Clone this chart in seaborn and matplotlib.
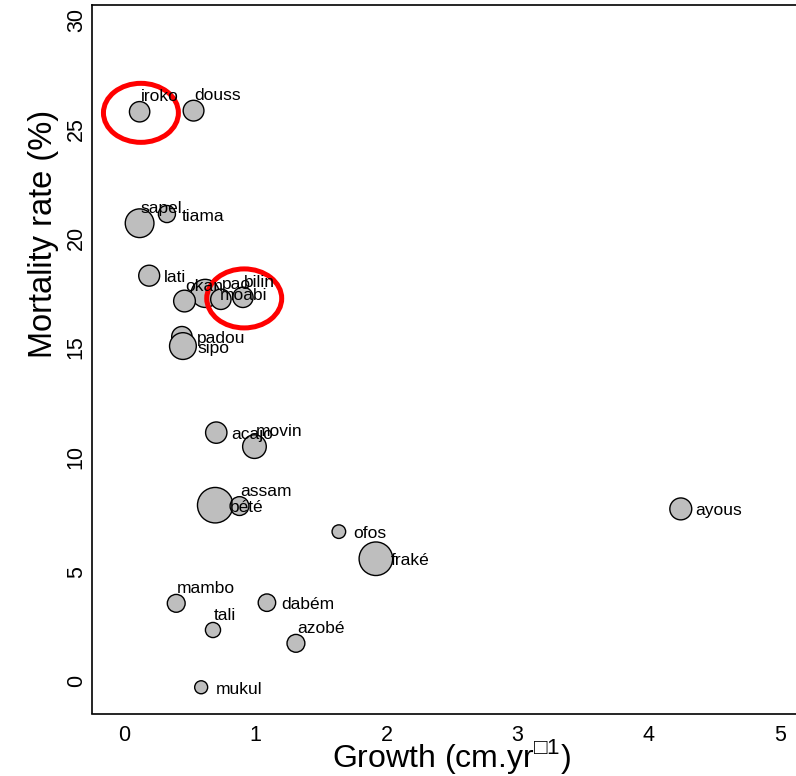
import pandas as pd
import matplotlib
matplotlib.use("Agg")
import matplotlib.pyplot as plt
from matplotlib.patches import Ellipse
import seaborn as sns

# --- data ---
species = ["iroko", "douss", "sapel", "tiama", "lati", "moabi", "okan", "pao", "bilin",
           "padou", "sipo", "acajo", "movin", "bété", "assam", "ofos", "fraké",
           "mambo", "dabém", "tali", "azobé", "mukul", "ayous"]
growth = [0.165, 0.576, 0.165, 0.373, 0.238, 0.665, 0.507, 0.784, 0.952,
          0.487, 0.495, 0.749, 1.040, 0.741, 0.926, 1.683, 1.965,
          0.444, 1.135, 0.724, 1.356, 0.634, 4.288]
mortality = [26.33, 26.38, 21.23, 21.65, 18.83, 18.02, 17.67, 17.75, 17.84,
             16.04, 15.61, 11.65, 11.01, 8.33, 8.29, 7.12, 5.88,
             3.84, 3.87, 2.62, 2.01, 0.0, 8.16]
# relative symbol size (R cex-like)
symbol_cex = [1.05, 1.07, 1.48, 0.88, 1.08, 1.45, 1.12, 1.05, 1.05,
              1.05, 1.38, 1.10, 1.22, 1.83, 0.97, 0.70, 1.73,
              0.92, 0.90, 0.78, 0.92, 0.67, 1.13]
highlighted = ["iroko", "bilin"]

# labels written above the point (all others go to the right)
labels_above = {"iroko", "douss", "sapel", "okan", "pao", "bilin", "movin",
                "assam", "mambo", "tali", "azobé"}

df = pd.DataFrame({"species": species, "growth": growth,
                   "mortality": mortality, "cex": symbol_cex})
df["area"] = df["cex"] ** 2

sns.set_theme(style="white")
plt.rcParams["font.family"] = ["Liberation Sans", "DejaVu Sans"]
plt.rcParams["mathtext.fontset"] = "custom"
plt.rcParams["mathtext.rm"] = "Liberation Sans"

fig = plt.figure(figsize=(7.96, 7.76), dpi=100)
ax = fig.add_axes([91.7 / 796, (776 - 713.5) / 776, (800.5 - 91.7) / 796, (713.5 - 5.3) / 776])

k = 195
amin, amax = df["area"].min(), df["area"].max()
sns.scatterplot(data=df, x="growth", y="mortality", size="area",
                sizes=(k * amin, k * amax), size_norm=(amin, amax),
                color="#BEBEBE", edgecolor="black", linewidth=1.0,
                legend=False, ax=ax, zorder=3)

for _, row in df.iterrows():
    if row["species"] in labels_above:
        off = (1, 10.5)
    else:
        off = (14.7, -6.5)
    ax.annotate(row["species"], (row["growth"], row["mortality"]), xytext=off,
                textcoords="offset pixels", ha="left", va="baseline",
                fontsize=12.5, color="black", zorder=5)

for sp in highlighted:
    r = df[df["species"] == sp].iloc[0]
    ax.add_patch(Ellipse((r["growth"] + 0.01, r["mortality"] - 0.05), width=0.571, height=2.70,
                         fill=False, edgecolor="#FF0000", linewidth=3.6, zorder=4))

ax.set_xlim(-0.2, 5.2)
ax.set_ylim(-1.2, 31.2)
ax.set_xticks(range(0, 6))
ax.set_yticks(range(0, 31, 5))
ax.tick_params(direction="in", length=9.5, width=1.1, colors="black", labelsize=15.5)
ax.tick_params(axis="x", pad=8)
ax.tick_params(axis="y", pad=3.5, labelrotation=90)
plt.setp(ax.get_xticklabels(), ha="left")
plt.setp(ax.get_yticklabels(), va="bottom")

for s in ax.spines.values():
    s.set_color("black")
    s.set_linewidth(1.2)
ax.grid(False)

ax.set_xlabel("Growth (cm.yr$^{\\mathregular{\u25a11}}$)", fontsize=23, color="black")
ax.xaxis.set_label_coords(0.508, -0.033)
ax.set_ylabel("Mortality rate (%)", fontsize=23.5, color="black", va="center")
ax.yaxis.set_label_coords(-0.068, 0.677)

fig.savefig("out.png", dpi=100)
